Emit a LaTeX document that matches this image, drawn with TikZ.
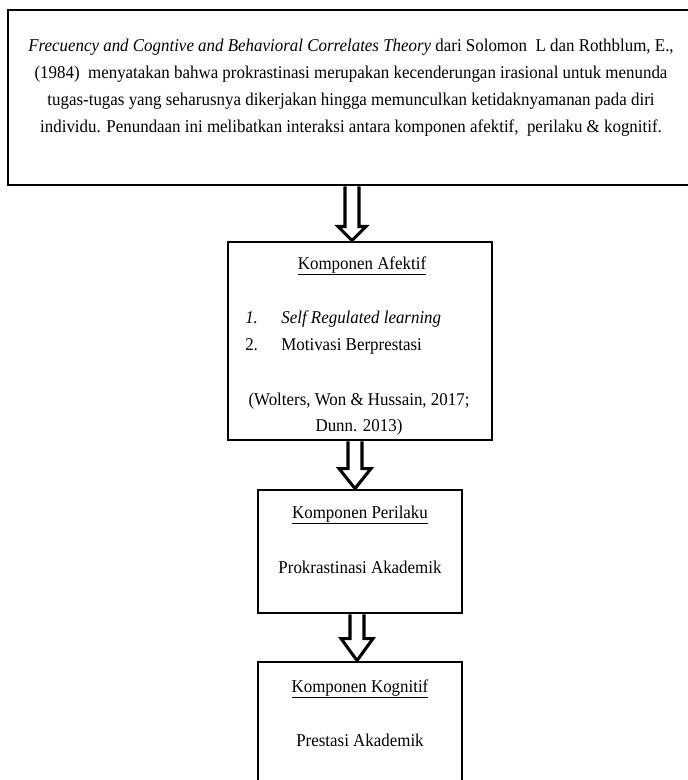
\documentclass[tikz,border=0pt]{standalone}
\usepackage{fontspec}
\setmainfont{Liberation Serif}[FakeStretch=0.94]
\usetikzlibrary{calc}
\begin{document}
\begin{tikzpicture}[x=0.75pt,y=-0.75pt,
  box/.style={draw, line width=2.2pt, rectangle, inner sep=0pt},
  txt/.style={inner sep=0pt, anchor=base, font=\fontsize{13.5}{16}\selectfont},
  blockarr/.style 2 args={line width=2.3pt, line join=miter,
    to path={($(\tikztostart)+(-7,0)$) -- ($(\tikztotarget)+(-7,-#1)$)
      -- ($(\tikztotarget)+(-#2,-#1)$) -- (\tikztotarget)
      -- ($(\tikztotarget)+(#2,-#1)$) -- ($(\tikztotarget)+(7,-#1)$)
      -- ($(\tikztostart)+(7,0)$)}}]
\useasboundingbox (0,0) rectangle (687,780);
% boxes
\node[box, minimum width=519pt, minimum height=131.25pt] (top) at (354,97.5) {};
\node[box, minimum width=198pt, minimum height=148.5pt] (aff) at (360,341) {};
\node[box, minimum width=153pt, minimum height=92.25pt] (per) at (360,551.5) {};
\node[box, minimum width=153pt, minimum height=103.5pt] (kog) at (360,731) {};
% top text
\node[txt] (t1) at (351,52) {\textit{Frecuency and Cogntive and Behavioral Correlates Theory} dari Solomon\ \ L dan Rothblum, E.,};
\node[txt] (t2) at (351,79) {(1984)\ \ menyatakan bahwa prokrastinasi merupakan kecenderungan irasional untuk menunda};
\node[txt] (t3) at (351,106) {tugas-tugas yang seharusnya dikerjakan hingga memunculkan ketidaknyamanan pada diri};
\node[txt] (t4) at (351,133) {individu. Penundaan ini melibatkan interaksi antara komponen afektif,\ \ perilaku \& kognitif.};
% affective
\node[txt] (a0) at (362,269) {\underline{Komponen Afektif}};
\node[txt, anchor=base west] (a1) at (245,323) {\textit{1.\hspace{1.3em}Self Regulated learning}};
\node[txt, anchor=base west] (a2) at (245,350) {2.\hspace{1.3em}Motivasi Berprestasi};
\node[txt] (a3) at (359,405) {(Wolters, Won \& Hussain, 2017;};
\node[txt] (a4) at (359,431) {Dunn. 2013)};
% perilaku
\node[txt] (p0) at (360,518) {\underline{Komponen Perilaku}};
\node[txt] (p1) at (360,573) {Prokrastinasi Akademik};
% kognitif
\node[txt] (k0) at (360,692) {\underline{Komponen Kognitif}};
\node[txt] (k1) at (360,746) {Prestasi Akademik};
% arrows
\coordinate (ax1) at (352,0);
\coordinate (ax2) at (355,0);
\coordinate (ax3) at (357,0);
\draw[blockarr={14}{14}] (top.south -| ax1) to (aff.north -| ax1);
\draw[blockarr={20}{16}] (aff.south -| ax2) to (per.north -| ax2);
\draw[blockarr={22}{16}] (per.south -| ax3) to (kog.north -| ax3);
\end{tikzpicture}
\end{document}
